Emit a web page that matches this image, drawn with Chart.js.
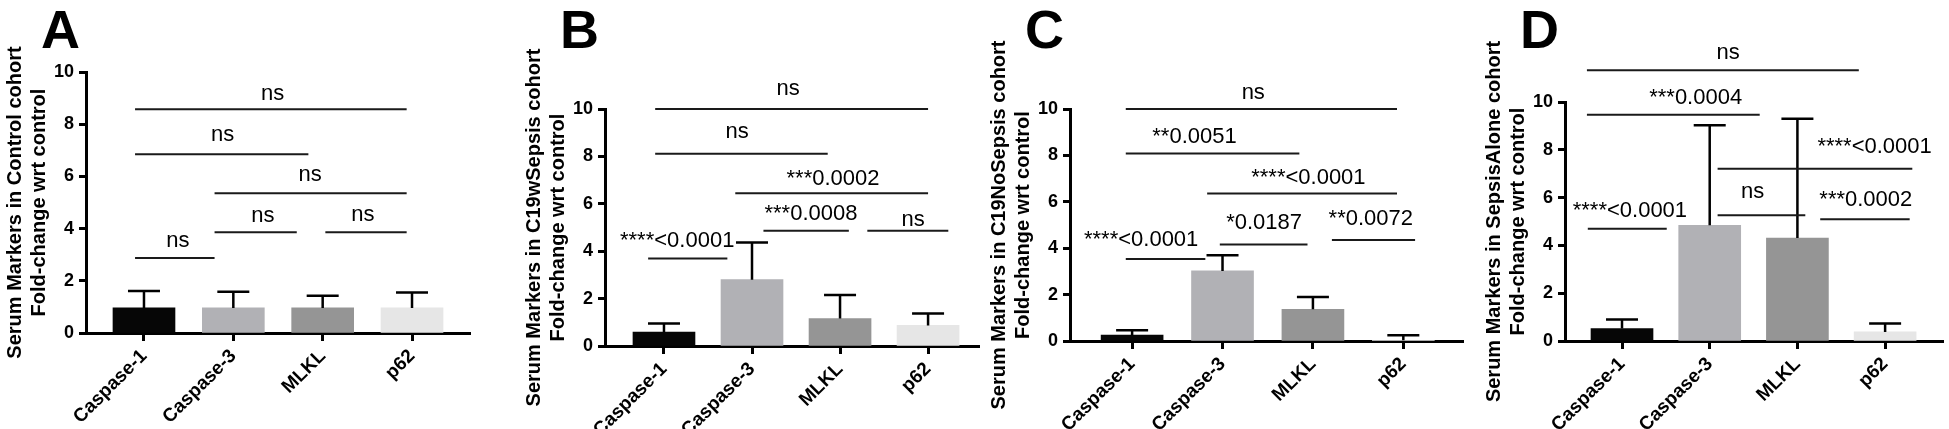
<!DOCTYPE html>
<html>
<head>
<meta charset="utf-8">
<script src="https://cdn.jsdelivr.net/npm/chart.js@4.4.0/dist/chart.umd.min.js"></script>
<style>
  html, body { margin: 0; padding: 0; background: #fff; }
  #wrap { position: relative; width: 1949px; height: 429px; overflow: hidden; }
  canvas { position: absolute; top: 0; }
</style>
</head>
<body>
<div id="wrap">
  <canvas id="panelA" width="490" height="429" style="left:0px"></canvas>
  <canvas id="panelB" width="490" height="429" style="left:490px"></canvas>
  <canvas id="panelC" width="490" height="429" style="left:980px"></canvas>
  <canvas id="panelD" width="489" height="429" style="left:1460px"></canvas>
</div>
<script>
const FONT = 'Liberation Sans, Arial, Helvetica, sans-serif'

const markers = ['Caspase-1', 'Caspase-3', 'MLKL', 'p62']
const barColors = ['#060606', '#b1b1b5', '#959595', '#e6e6e6']
const yTicksMax = 10
const yTickStep = 2

// A - Control cohort
const controlMeans = [0.96, 0.96, 0.96, 0.96]
const controlSd = [0.65, 0.62, 0.47, 0.59]
const controlSigLabels = ['ns', 'ns', 'ns', 'ns', 'ns', 'ns']
const controlSigY = [8.57, 6.85, 5.35, 3.86, 3.86, 2.87]
const controlSigFrom = [-0.10, -0.10, 0.79, 0.79, 2.03, -0.10]
const controlSigTo = [2.94, 1.84, 2.94, 1.71, 2.94, 0.79]
const controlSigTextX = [1.44, 0.88, 1.86, 1.33, 2.45, 0.38]
const controlSigTextY = [8.94, 7.36, 5.82, 4.24, 4.30, 3.31]

// B - C19wSepsis cohort
const sepsisMeans = [0.59, 2.80, 1.16, 0.87]
const sepsisSd = [0.36, 1.57, 0.99, 0.50]
const sepsisSigLabels = ['ns', 'ns', '***0.0002', '***0.0008', 'ns', '****<0.0001']
const sepsisSigY = [10.0, 8.11, 6.44, 4.86, 4.86, 3.69]
const sepsisSigFrom = [-0.10, -0.10, 0.81, 1.13, 2.31, -0.18]
const sepsisSigTo = [3.0, 1.86, 3.0, 2.10, 3.23, 0.72]
const sepsisSigTextX = [1.41, 0.83, 1.92, 1.67, 2.83, 0.15]
const sepsisSigTextY = [10.59, 8.79, 6.79, 5.31, 5.06, 4.18]

// C - C19NoSepsis cohort
const noSepsisMeans = [0.25, 3.02, 1.37, 0.03]
const noSepsisSd = [0.21, 0.68, 0.53, 0.22]
const noSepsisSigLabels = ['ns', '**0.0051', '****<0.0001', '*0.0187', '**0.0072', '****<0.0001']
const noSepsisSigY = [10.0, 8.08, 6.36, 4.16, 4.35, 3.53]
const noSepsisSigFrom = [-0.07, -0.07, 0.83, 0.97, 2.21, -0.07]
const noSepsisSigTo = [2.93, 1.85, 2.93, 1.94, 3.13, 0.81]
const noSepsisSigTextX = [1.34, 0.69, 1.95, 1.46, 2.64, 0.10]
const noSepsisSigTextY = [10.42, 8.52, 6.76, 4.82, 4.99, 4.10]

// D - SepsisAlone cohort
const aloneMeans = [0.52, 4.84, 4.31, 0.38]
const aloneSd = [0.38, 4.19, 4.99, 0.35]
const aloneSigLabels = ['ns', '***0.0004', '****<0.0001', 'ns', '***0.0002', '****<0.0001']
const aloneSigY = [11.33, 9.47, 7.21, 5.26, 5.09, 4.70]
const aloneSigFrom = [-0.40, -0.40, 1.09, 1.09, 2.26, -0.39]
const aloneSigTo = [2.70, 1.57, 3.31, 2.09, 3.28, 0.51]
const aloneSigTextX = [1.21, 0.84, 2.88, 1.49, 2.78, 0.09]
const aloneSigTextY = [11.82, 9.90, 7.87, 6.00, 5.64, 5.19]

const makeOverlay = (p) => ({
  id: 'overlay' + p.letter,
  afterDraw(chart) {
    const ctx = chart.ctx
    const xs = chart.scales.x
    const ys = chart.scales.y
    ctx.save()
    ctx.strokeStyle = '#000'
    ctx.fillStyle = '#000'

    // error bars (upper SD only)
    ctx.lineWidth = 2.5
    p.means.forEach((m, i) => {
      const x = xs.getPixelForValue(i)
      const yBase = ys.getPixelForValue(m)
      const yTop = ys.getPixelForValue(m + p.sd[i])
      ctx.beginPath()
      ctx.moveTo(x, yBase)
      ctx.lineTo(x, yTop)
      ctx.moveTo(x - 16, yTop)
      ctx.lineTo(x + 16, yTop)
      ctx.stroke()
    })

    // significance lines + labels
    ctx.lineWidth = 2
    ctx.strokeStyle = '#1a1a1a'
    ctx.font = '22px ' + FONT
    ctx.textAlign = 'center'
    ctx.textBaseline = 'alphabetic'
    p.sigLabels.forEach((label, i) => {
      const y = ys.getPixelForValue(p.sigY[i])
      ctx.beginPath()
      ctx.moveTo(xs.getPixelForValue(p.sigFrom[i]), y)
      ctx.lineTo(xs.getPixelForValue(p.sigTo[i]), y)
      ctx.stroke()
      ctx.fillText(label, xs.getPixelForValue(p.sigTextX[i]), ys.getPixelForValue(p.sigTextY[i]))
    })

    // panel letter
    ctx.font = 'bold 54px ' + FONT
    ctx.textAlign = 'left'
    ctx.fillText(p.letter, chart.chartArea.left - 45, 48)
    ctx.restore()
  }
})

const makePanel = (canvasId, p) => {
  return new Chart(document.getElementById(canvasId), {
    type: 'bar',
    data: {
      datasets: [{
        data: p.means.map((m, i) => ({x: i, y: m})),
        backgroundColor: barColors,
        borderWidth: 0,
        barThickness: 62
      }]
    },
    options: {
      responsive: false,
      animation: false,
      devicePixelRatio: 1,
      layout: { padding: p.padding },
      plugins: {
        legend: { display: false },
        tooltip: { enabled: false },
        title: { display: false }
      },
      scales: {
        x: {
          type: 'linear',
          min: p.xMin,
          max: p.xMax,
          offset: false,
          afterBuildTicks: (scale) => { scale.ticks = markers.map((m, i) => ({value: i})) },
          afterFit: (scale) => { scale.height = p.xAxisHeight },
          ticks: {
            autoSkip: false,
            minRotation: 45,
            maxRotation: 45,
            padding: 4,
            color: '#000',
            font: { family: FONT, size: 19, weight: 'bold' },
            callback: (value) => markers[value]
          },
          grid: { offset: false, drawOnChartArea: false, tickLength: 8, tickWidth: 3, tickColor: '#000' },
          border: { color: '#000', width: 3 }
        },
        y: {
          min: 0,
          max: yTicksMax,
          afterFit: (scale) => { scale.width = 83 },
          ticks: {
            stepSize: yTickStep,
            padding: 5,
            color: '#000',
            font: { family: FONT, size: 18, weight: 'bold' }
          },
          grid: { drawOnChartArea: false, tickLength: 7, tickWidth: 3, tickColor: '#000' },
          border: { color: '#000', width: 3 },
          title: {
            display: true,
            text: [p.title, 'Fold-change wrt control'],
            color: '#000',
            padding: 0,
            font: { family: FONT, size: 20, weight: 'bold', lineHeight: 1.2 }
          }
        }
      }
    },
    plugins: [makeOverlay(p)]
  })
}

makePanel('panelA', {
  letter: 'A', title: 'Serum Markers in Control cohort',
  means: controlMeans, sd: controlSd,
  sigLabels: controlSigLabels, sigY: controlSigY, sigFrom: controlSigFrom, sigTo: controlSigTo,
  sigTextX: controlSigTextX, sigTextY: controlSigTextY,
  padding: { left: 3, right: 20, top: 72, bottom: 0 }, xAxisHeight: 96,
  xMin: -0.649, xMax: 3.649
})

makePanel('panelB', {
  letter: 'B', title: 'Serum Markers in C19wSepsis cohort',
  means: sepsisMeans, sd: sepsisSd,
  sigLabels: sepsisSigLabels, sigY: sepsisSigY, sigFrom: sepsisSigFrom, sigTo: sepsisSigTo,
  sigTextX: sepsisSigTextX, sigTextY: sepsisSigTextY,
  padding: { left: 32, right: 0, top: 109, bottom: 0 }, xAxisHeight: 83,
  xMin: -0.67, xMax: 3.59
})

makePanel('panelC', {
  letter: 'C', title: 'Serum Markers in C19NoSepsis cohort',
  means: noSepsisMeans, sd: noSepsisSd,
  sigLabels: noSepsisSigLabels, sigY: noSepsisSigY, sigFrom: noSepsisSigFrom, sigTo: noSepsisSigTo,
  sigTextX: noSepsisSigTextX, sigTextY: noSepsisSigTextY,
  padding: { left: 7, right: 7, top: 109, bottom: 0 }, xAxisHeight: 88,
  xMin: -0.687, xMax: 3.66
})

makePanel('panelD', {
  letter: 'D', title: 'Serum Markers in SepsisAlone cohort',
  means: aloneMeans, sd: aloneSd,
  sigLabels: aloneSigLabels, sigY: aloneSigY, sigFrom: aloneSigFrom, sigTo: aloneSigTo,
  sigTextX: aloneSigTextX, sigTextY: aloneSigTextY,
  padding: { left: 22, right: 6, top: 102, bottom: 0 }, xAxisHeight: 88,
  xMin: -0.65, xMax: 3.66
})
</script>
</body>
</html>
